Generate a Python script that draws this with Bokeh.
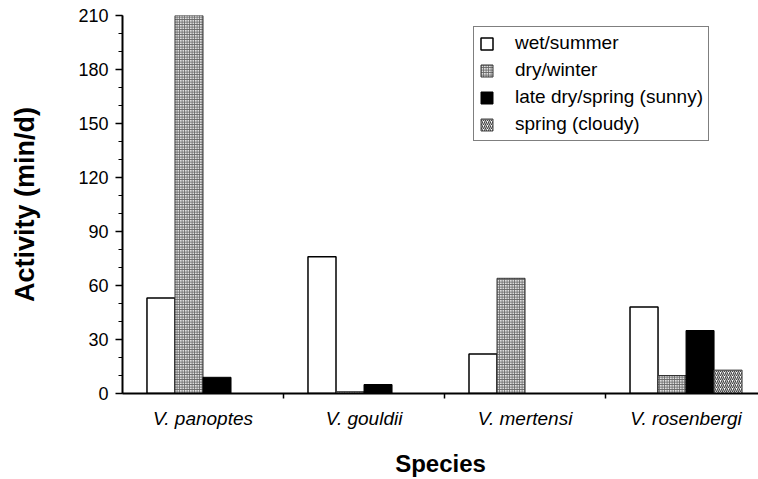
from bokeh.plotting import figure
from bokeh.models import Range1d, FixedTicker, Legend, LegendItem
from bokeh.embed import file_html
from bokeh.resources import INLINE

species = ["V. panoptes", "V. gouldii", "V. mertensi", "V. rosenbergi"]
seasons = ["wet/summer", "dry/winter", "late dry/spring (sunny)", "spring (cloudy)"]
wet_summer = [53, 76, 22, 48]
dry_winter = [210, 1, 64, 10]
late_dry_sunny = [9, 5, 0, 35]
spring_cloudy = [0, 0, 0, 13]
y_ticks = [0, 30, 60, 90, 120, 150, 180, 210]

series = [wet_summer, dry_winter, late_dry_sunny, spring_cloudy]
styles = [
    dict(fill_color="white", line_color="black", line_width=1.5),
    dict(fill_color="#e0e0e0", line_color="#333333", line_width=1, hatch_pattern="cross",
         hatch_scale=2.5, hatch_color="#333333", hatch_weight=1, hatch_alpha=0.7),
    dict(fill_color="black", line_color="black", line_width=1),
    dict(fill_color="white", line_color="#444444", line_width=1, hatch_pattern="right_diagonal_line",
         hatch_scale=4, hatch_color="#444444", hatch_weight=1.2),
]

p = figure(width=758, height=479, output_backend="svg", toolbar_location=None,
           x_range=Range1d(0, 3.95), y_range=Range1d(0, 210),
           min_border_left=122, min_border_right=0, min_border_top=15, min_border_bottom=86)
p.outline_line_color = None
p.xgrid.visible = False
p.ygrid.visible = False
p.background_fill_color = "white"
p.border_fill_color = "white"

bw = 0.174
items = []
for k, (vals, st) in enumerate(zip(series, styles)):
    xs = [i + 0.5 + (k - 1.5) * bw for i in range(len(species))]
    xs_f = [x for x, v in zip(xs, vals) if v > 0]
    v_f = [v for v in vals if v > 0]
    r = p.vbar(x=xs_f, top=v_f, bottom=0, width=bw, **st)
    items.append(LegendItem(label=seasons[k], renderers=[r]))

font = "Liberation Sans"

# x axis
xa = p.xaxis[0]
xa.ticker = FixedTicker(ticks=[i + 0.5 for i in range(len(species))], minor_ticks=[1, 2, 3])
xa.major_label_overrides = {i + 0.5: s for i, s in enumerate(species)}
xa.major_tick_line_color = None
xa.minor_tick_out = 5
xa.minor_tick_in = 0
xa.minor_tick_line_width = 1.5
xa.axis_line_width = 2
xa.major_label_text_font = font
xa.major_label_text_font_style = "italic"
xa.major_label_text_font_size = "19px"
xa.major_label_text_color = "black"
xa.major_label_standoff = 8
xa.axis_label = "Species"
xa.axis_label_text_font = font
xa.axis_label_text_font_style = "bold"
xa.axis_label_text_font_size = "24px"
xa.axis_label_text_color = "black"
xa.axis_label_standoff = 18

# y axis
ya = p.yaxis[0]
ya.ticker = FixedTicker(ticks=y_ticks, minor_ticks=list(range(0, 211, 10)))
ya.axis_line_width = 2
ya.major_tick_out = 7
ya.major_tick_in = 0
ya.major_tick_line_width = 1.5
ya.minor_tick_out = 4
ya.minor_tick_in = 0
ya.minor_tick_line_width = 1
ya.major_label_text_font = font
ya.major_label_text_font_size = "18px"
ya.major_label_text_color = "black"
ya.major_label_standoff = 7
ya.axis_label = "Activity (min/d)"
ya.axis_label_text_font = font
ya.axis_label_text_font_style = "bold"
ya.axis_label_text_font_size = "27px"
ya.axis_label_text_color = "black"
ya.axis_label_standoff = 35

legend = Legend(items=items, location=(351, 252))
legend.label_text_font = font
legend.label_text_font_size = "19px"
legend.label_text_color = "black"
legend.border_line_color = "black"
legend.border_line_width = 1.5
legend.padding = 5
legend.spacing = 5
legend.label_height = 21
legend.glyph_height = 15
legend.glyph_width = 15
legend.label_standoff = 21
legend.margin = 0
legend.background_fill_alpha = 1
p.add_layout(legend, "center")

open("out.html", "w").write(file_html(p, INLINE))
